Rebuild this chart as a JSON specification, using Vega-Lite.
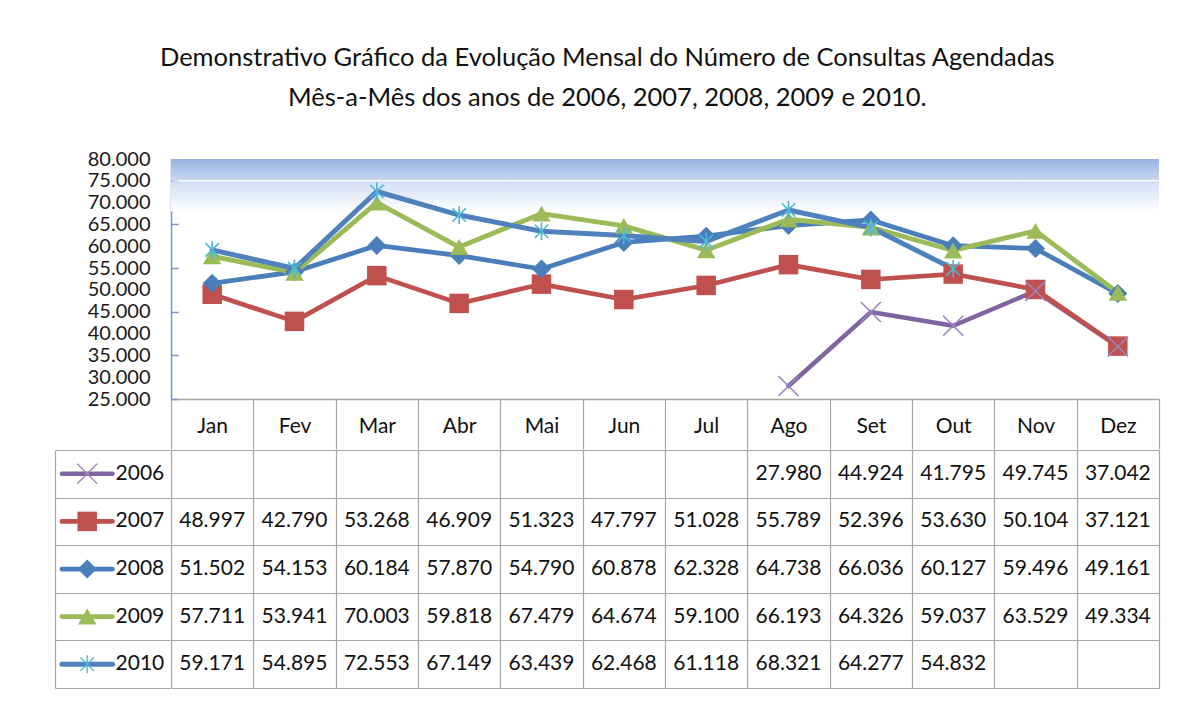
{
  "$schema": "https://vega.github.io/schema/vega-lite/v6.json",
  "background": "white",
  "padding": {"left": 55, "top": 45, "right": 21, "bottom": 10},
  "title": {
    "text": ["Demonstrativo Gráfico da Evolução Mensal do Número de Consultas Agendadas", "Mês-a-Mês dos anos de 2006, 2007, 2008, 2009 e 2010."],
    "font": "Lato",
    "fontSize": 25.5,
    "fontWeight": "normal",
    "color": "#111111",
    "lineHeight": 40,
    "anchor": "middle",
    "offset": 38
  },
  "datasets": {
    "dados": [
      {"ano": "2006", "mes": "Ago", "valor": 27980},
      {"ano": "2006", "mes": "Set", "valor": 44924},
      {"ano": "2006", "mes": "Out", "valor": 41795},
      {"ano": "2006", "mes": "Nov", "valor": 49745},
      {"ano": "2006", "mes": "Dez", "valor": 37042},
      {"ano": "2007", "mes": "Jan", "valor": 48997},
      {"ano": "2007", "mes": "Fev", "valor": 42790},
      {"ano": "2007", "mes": "Mar", "valor": 53268},
      {"ano": "2007", "mes": "Abr", "valor": 46909},
      {"ano": "2007", "mes": "Mai", "valor": 51323},
      {"ano": "2007", "mes": "Jun", "valor": 47797},
      {"ano": "2007", "mes": "Jul", "valor": 51028},
      {"ano": "2007", "mes": "Ago", "valor": 55789},
      {"ano": "2007", "mes": "Set", "valor": 52396},
      {"ano": "2007", "mes": "Out", "valor": 53630},
      {"ano": "2007", "mes": "Nov", "valor": 50104},
      {"ano": "2007", "mes": "Dez", "valor": 37121},
      {"ano": "2008", "mes": "Jan", "valor": 51502},
      {"ano": "2008", "mes": "Fev", "valor": 54153},
      {"ano": "2008", "mes": "Mar", "valor": 60184},
      {"ano": "2008", "mes": "Abr", "valor": 57870},
      {"ano": "2008", "mes": "Mai", "valor": 54790},
      {"ano": "2008", "mes": "Jun", "valor": 60878},
      {"ano": "2008", "mes": "Jul", "valor": 62328},
      {"ano": "2008", "mes": "Ago", "valor": 64738},
      {"ano": "2008", "mes": "Set", "valor": 66036},
      {"ano": "2008", "mes": "Out", "valor": 60127},
      {"ano": "2008", "mes": "Nov", "valor": 59496},
      {"ano": "2008", "mes": "Dez", "valor": 49161},
      {"ano": "2009", "mes": "Jan", "valor": 57711},
      {"ano": "2009", "mes": "Fev", "valor": 53941},
      {"ano": "2009", "mes": "Mar", "valor": 70003},
      {"ano": "2009", "mes": "Abr", "valor": 59818},
      {"ano": "2009", "mes": "Mai", "valor": 67479},
      {"ano": "2009", "mes": "Jun", "valor": 64674},
      {"ano": "2009", "mes": "Jul", "valor": 59100},
      {"ano": "2009", "mes": "Ago", "valor": 66193},
      {"ano": "2009", "mes": "Set", "valor": 64326},
      {"ano": "2009", "mes": "Out", "valor": 59037},
      {"ano": "2009", "mes": "Nov", "valor": 63529},
      {"ano": "2009", "mes": "Dez", "valor": 49334},
      {"ano": "2010", "mes": "Jan", "valor": 59171},
      {"ano": "2010", "mes": "Fev", "valor": 54895},
      {"ano": "2010", "mes": "Mar", "valor": 72553},
      {"ano": "2010", "mes": "Abr", "valor": 67149},
      {"ano": "2010", "mes": "Mai", "valor": 63439},
      {"ano": "2010", "mes": "Jun", "valor": 62468},
      {"ano": "2010", "mes": "Jul", "valor": 61118},
      {"ano": "2010", "mes": "Ago", "valor": 68321},
      {"ano": "2010", "mes": "Set", "valor": 64277},
      {"ano": "2010", "mes": "Out", "valor": 54832}
    ],
    "anos": [{"ano": "2006"}, {"ano": "2007"}, {"ano": "2008"}, {"ano": "2009"}, {"ano": "2010"}]
  },
  "columns": 2,
  "spacing": 0,
  "align": "each",
  "concat": [
    {
      "width": 115,
      "height": 240,
      "data": {"name": "dados"},
      "mark": {"type": "point", "opacity": 0},
      "encoding": {
        "y": {
          "field": "valor", "type": "quantitative",
          "scale": {"domain": [25000, 80000], "nice": false, "zero": false},
          "axis": {
            "orient": "left", "offset": -115, "title": null, "grid": false,
            "values": [25000, 30000, 35000, 40000, 45000, 50000, 55000, 60000, 65000, 70000, 75000, 80000],
            "format": ",d", "labelOverlap": false, "labelBound": false,
            "domain": false, "ticks": false,
            "labelFontSize": 20, "labelPadding": 20, "labelColor": "#1a1a1a"
          }
        }
      }
    },
    {
      "width": 988,
      "height": 240,
      "layer": [
        {
          "data": {"values": [{}]},
          "mark": {"type": "rect", "color": {"gradient": "linear", "x1": 0, "y1": 0, "x2": 0, "y2": 1, "stops": [{"offset": 0, "color": "#98b2e0"}, {"offset": 1, "color": "#c8d6ef"}]}},
          "encoding": {
            "y": {
              "datum": 80000, "type": "quantitative",
              "scale": {"domain": [25000, 80000], "nice": false, "zero": false},
              "axis": {
                "orient": "left", "title": null, "grid": false, "labels": false,
                "values": [25000, 30000, 35000, 40000, 45000, 50000, 55000, 60000, 65000, 70000, 75000, 80000],
                "domainColor": "#6f97cf", "domainWidth": 1.5,
                "tickColor": "#6f97cf", "tickSize": -7, "tickWidth": 1.5
              }
            },
            "y2": {"datum": 75200}
          }
        },
        {
          "data": {"values": [{}]},
          "mark": {"type": "rect", "color": {"gradient": "linear", "x1": 0, "y1": 0, "x2": 0, "y2": 1, "stops": [{"offset": 0, "color": "#d2def3"}, {"offset": 1, "color": "#ffffff"}]}},
          "encoding": {
            "y": {"datum": 74900, "type": "quantitative"},
            "y2": {"datum": 68000}
          }
        },
        {
          "data": {"name": "dados"},
          "mark": {"type": "line", "strokeJoin": "round", "strokeCap": "round"},
          "encoding": {
            "x": {
              "field": "mes", "type": "nominal",
              "sort": ["Jan", "Fev", "Mar", "Abr", "Mai", "Jun", "Jul", "Ago", "Set", "Out", "Nov", "Dez"],
              "scale": {"domain": ["Jan", "Fev", "Mar", "Abr", "Mai", "Jun", "Jul", "Ago", "Set", "Out", "Nov", "Dez"], "paddingInner": 0, "paddingOuter": 0},
              "axis": {
                "orient": "bottom", "title": null, "grid": false, "labelAngle": 0,
                "tickBand": "extent", "tickSize": 50, "tickColor": "#a6a6a6", "tickWidth": 1.2,
                "domainColor": "#a6a6a6", "domainWidth": 1.5,
                "labelFontSize": 21, "labelPadding": -34, "labelColor": "#111111"
              }
            },
            "y": {"field": "valor", "type": "quantitative"},
            "color": {"field": "ano", "type": "nominal", "scale": {"domain": ["2006", "2007", "2008", "2009", "2010"], "range": ["#8064a2", "#c0504d", "#4a7ebb", "#9bbb59", "#4f81bd"]}},
            "strokeWidth": {"field": "ano", "type": "ordinal", "scale": {"domain": ["2006", "2007", "2008", "2009", "2010"], "range": [4.5, 5, 3.5, 5, 6]}}
          }
        },
        {
          "data": {"name": "dados"},
          "transform": [{"filter": {"field": "ano", "oneOf": ["2007", "2008", "2009"]}}],
          "mark": {"type": "point", "filled": true, "opacity": 1},
          "encoding": {
            "x": {"field": "mes", "type": "nominal", "sort": ["Jan", "Fev", "Mar", "Abr", "Mai", "Jun", "Jul", "Ago", "Set", "Out", "Nov", "Dez"]},
            "y": {"field": "valor", "type": "quantitative"},
            "color": {"field": "ano", "type": "nominal"},
            "shape": {"field": "ano", "type": "nominal", "scale": {"domain": ["2006", "2007", "2008", "2009", "2010"], "range": ["M-1,-1L1,1M-1,1L1,-1", "square", "diamond", "triangle-up", "M-0.75,-0.75L0.75,0.75M-0.75,0.75L0.75,-0.75M0,-1L0,1"]}},
            "size": {"field": "ano", "type": "ordinal", "scale": {"domain": ["2006", "2007", "2008", "2009", "2010"], "range": [400, 320, 170, 330, 500]}}
          }
        },
        {
          "data": {"name": "dados"},
          "transform": [{"filter": {"field": "ano", "oneOf": ["2006", "2010"]}}],
          "mark": {"type": "point", "filled": false, "opacity": 1, "strokeWidth": 1.6},
          "encoding": {
            "x": {"field": "mes", "type": "nominal", "sort": ["Jan", "Fev", "Mar", "Abr", "Mai", "Jun", "Jul", "Ago", "Set", "Out", "Nov", "Dez"]},
            "y": {"field": "valor", "type": "quantitative"},
            "stroke": {"field": "ano", "type": "nominal", "scale": {"domain": ["2006", "2010"], "range": ["#9a86c2", "#4bb8d6"]}},
            "shape": {"field": "ano", "type": "nominal"},
            "size": {"field": "ano", "type": "ordinal"}
          }
        }
      ]
    },
    {
      "width": 115,
      "height": 238,
      "data": {"name": "anos"},
      "encoding": {
        "y": {
          "field": "ano", "type": "nominal",
          "scale": {"domain": ["2006", "2007", "2008", "2009", "2010"], "paddingInner": 0, "paddingOuter": 0},
          "axis": {"orient": "left", "title": null, "labels": false, "ticks": false, "domain": true, "domainColor": "#a6a6a6", "domainWidth": 1.2, "grid": true, "gridColor": "#a6a6a6", "gridWidth": 1.2, "gridOpacity": 1, "tickBand": "extent"}
        }
      },
      "layer": [
        {
          "mark": {"type": "rule", "strokeCap": "round"},
          "encoding": {
            "x": {"datum": 0.06, "type": "quantitative", "scale": {"domain": [0, 1], "nice": false, "zero": false}, "axis": null},
            "x2": {"datum": 0.5},
            "color": {"field": "ano", "type": "nominal", "scale": {"domain": ["2006", "2007", "2008", "2009", "2010"], "range": ["#8064a2", "#c0504d", "#4a7ebb", "#9bbb59", "#4f81bd"]}},
            "strokeWidth": {"field": "ano", "type": "ordinal", "scale": {"domain": ["2006", "2007", "2008", "2009", "2010"], "range": [4, 4.5, 4, 4.5, 4.5]}}
          }
        },
        {
          "transform": [{"filter": {"field": "ano", "oneOf": ["2007", "2008", "2009"]}}],
          "mark": {"type": "point", "filled": true, "opacity": 1},
          "encoding": {
            "x": {"datum": 0.28, "type": "quantitative"},
            "color": {"field": "ano", "type": "nominal"},
            "shape": {"field": "ano", "type": "nominal", "scale": {"domain": ["2006", "2007", "2008", "2009", "2010"], "range": ["M-1,-1L1,1M-1,1L1,-1", "square", "diamond", "triangle-up", "M-0.75,-0.75L0.75,0.75M-0.75,0.75L0.75,-0.75M0,-1L0,1"]}},
            "size": {"field": "ano", "type": "ordinal", "scale": {"domain": ["2006", "2007", "2008", "2009", "2010"], "range": [130, 120, 80, 130, 170]}}
          }
        },
        {
          "transform": [{"filter": {"field": "ano", "oneOf": ["2006", "2010"]}}],
          "mark": {"type": "point", "filled": false, "opacity": 1, "strokeWidth": 1.3},
          "encoding": {
            "x": {"datum": 0.28, "type": "quantitative"},
            "stroke": {"field": "ano", "type": "nominal", "scale": {"domain": ["2006", "2010"], "range": ["#9a86c2", "#4bb8d6"]}},
            "shape": {"field": "ano", "type": "nominal"},
            "size": {"field": "ano", "type": "ordinal"}
          }
        },
        {
          "mark": {"type": "text", "align": "right", "baseline": "middle", "fontSize": 21, "color": "#111111", "font": "Lato"},
          "encoding": {
            "x": {"datum": 0.95, "type": "quantitative"},
            "text": {"field": "ano", "type": "nominal"}
          }
        }
      ]
    },
    {
      "width": 988,
      "height": 238,
      "data": {"name": "dados"},
      "mark": {"type": "text", "fontSize": 21, "baseline": "middle", "color": "#111111", "font": "Lato"},
      "encoding": {
        "x": {
          "field": "mes", "type": "nominal",
          "sort": ["Jan", "Fev", "Mar", "Abr", "Mai", "Jun", "Jul", "Ago", "Set", "Out", "Nov", "Dez"],
          "scale": {"domain": ["Jan", "Fev", "Mar", "Abr", "Mai", "Jun", "Jul", "Ago", "Set", "Out", "Nov", "Dez"], "paddingInner": 0, "paddingOuter": 0},
          "axis": {"orient": "top", "title": null, "labels": false, "ticks": false, "domain": false, "grid": true, "gridColor": "#a6a6a6", "gridWidth": 1.2, "gridOpacity": 1, "tickBand": "extent"}
        },
        "y": {
          "field": "ano", "type": "nominal",
          "scale": {"domain": ["2006", "2007", "2008", "2009", "2010"], "paddingInner": 0, "paddingOuter": 0},
          "axis": {"orient": "left", "title": null, "labels": false, "ticks": false, "domain": false, "grid": true, "gridColor": "#a6a6a6", "gridWidth": 1.2, "gridOpacity": 1, "tickBand": "extent"}
        },
        "text": {"field": "valor", "type": "quantitative", "format": ",d"}
      }
    }
  ],
  "config": {
    "view": {"stroke": null},
    "legend": {"disable": true},
    "locale": {"number": {"decimal": ",", "thousands": ".", "grouping": [3], "currency": ["R$", ""]}},
    "axis": {"labelFont": "Lato"}
  }
}
